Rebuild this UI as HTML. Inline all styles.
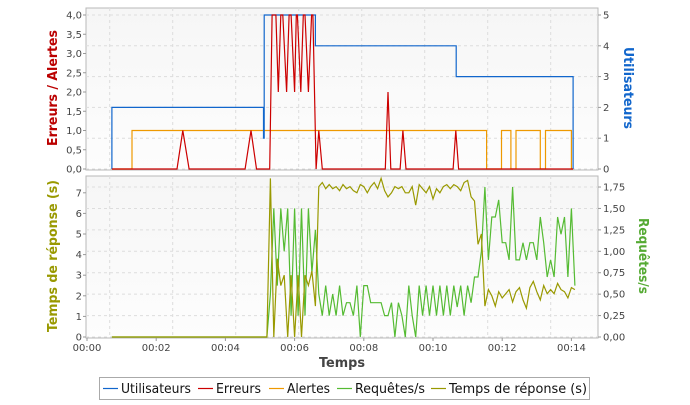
<!DOCTYPE html>
<html><head><meta charset="utf-8">
<style>
body{margin:0;background:#fff;font-family:"Liberation Sans","DejaVu Sans",sans-serif;}
svg text{font-family:"DejaVu Sans","Liberation Sans",sans-serif;}
</style></head>
<body>
<svg id="c" width="690" height="400" viewBox="0 0 690 400" xmlns="http://www.w3.org/2000/svg">
<defs>
<linearGradient id="bg" x1="0" y1="0" x2="0" y2="1"><stop offset="0" stop-color="#f6f6f6"/><stop offset="1" stop-color="#fdfdfd"/></linearGradient>
</defs>
</svg>
<script>
// ---- data ----
const xTickLabels=["00:00","00:02","00:04","00:06","00:08","00:10","00:12","00:14"];
const topLeftTicks=["0,0","0,5","1,0","1,5","2,0","2,5","3,0","3,5","4,0"];
const topRightTicks=["0","1","2","3","4","5"];
const botLeftTicks=["0","1","2","3","4","5","6","7"];
const botRightTicks=["0,00","0,25","0,50","0,75","1,00","1,25","1,50","1,75"];
// users step series (minutes, users)
const userTimes=[0.72,0.72,5.1,5.1,5.12,5.12,6.6,6.6,10.67,10.67,14.05,14.05];
const userVals=[0,2,2,1,1,5,5,4,4,3,3,0];
// alerts step series
const alertTimes=[0.72,1.3,1.3,11.55,11.55,11.98,11.98,12.25,12.25,12.4,12.4,13.1,13.1,13.25,13.25,14.0,14.0,14.05];
const alertVals=[0,0,1,1,0,0,1,1,0,0,1,1,0,0,1,1,0,0];
// errors
const errTimes=[0.72,2.6,2.77,2.95,4.57,4.74,4.9,5.28,5.35,5.46,5.53,5.6,5.66,5.77,5.84,5.9,6.0,6.05,6.08,6.18,6.25,6.3,6.4,6.49,6.53,6.62,6.7,6.8,8.62,8.7,8.78,9.05,9.13,9.22,10.58,10.66,10.74,14.05];
const errVals=[0,0,1,0,0,1,0,0,4,4,2,4,4,2,4,4,2,4,4,2,4,4,2,4,4,0,1,0,0,2,0,0,1,0,0,1,0,0];
// bottom series sampled every 0.1 min from 5.2
const sampleStart=5.2, sampleStep=0.1, seriesStart=0.72;
const respVals=[0,7.7,0,3.8,2.5,3.0,0,3.0,0,3.0,0,3.0,2.5,3.2,1.5,7.3,
7.5,7.2,7.4,7.2,7.3,7.1,7.4,7.2,7.3,7.1,7.0,7.4,7.3,7.0,7.3,7.5,7.2,7.7,7.1,6.8,7.0,7.3,7.2,7.3,7.0,7.0,7.3,6.4,7.4,7.2,7.0,7.3,6.7,7.2,7.0,7.3,7.4,7.2,7.4,7.3,7.1,7.5,7.6,
6.8,6.6,4.5,5.0,1.5,
2.3,2.0,1.5,2.2,1.9,2.1,2.3,1.7,2.2,2.4,1.8,1.4,2.4,2.7,2.2,1.8,2.5,2.1,2.3,2.1,2.6,2.3,2.2,1.9,2.4,2.3];
const reqVals=[0,0.5,1.5,0.6,1.5,1.0,1.5,0.25,1.5,0.25,1.5,0.25,1.5,0.75,1.25,0.5,
0.25,0.6,0.25,0.5,0.25,0.6,0.25,0.4,0.4,0.25,0.6,0,0.6,0.6,0.4,0.4,0.4,0.4,0.25,0.25,0.4,0,0.4,0.25,0,0.6,0.25,0,0.6,0.25,0.6,0.25,0.6,0.25,0.6,0.25,0.6,0.25,0.6,0.35,0.6,0.25,0.6,
0.4,0.7,0.7,1.0,1.75,
0.9,1.4,1.4,1.6,1.1,1.1,0.9,1.75,0.9,0.9,1.1,0.9,1.1,1.1,0.9,1.4,1.1,0.7,0.9,0.7,1.4,1.2,1.4,0.7,1.5,0.6];
const legendLabels=["Utilisateurs","Erreurs","Alertes","Requêtes/s","Temps de réponse (s)"];

// ---- geometry ----
const svg=document.getElementById('c');
const NS="http://www.w3.org/2000/svg";
function el(tag,attrs,parent){const e=document.createElementNS(NS,tag);for(const k in attrs)e.setAttribute(k,attrs[k]);(parent||svg).appendChild(e);return e;}
const L=86,R=598;
const T1=8,B1=169,T2=176,B2=337;
const xs=t=>87+34.6*t;
const yTL=v=>B1-38.5*v, yTR=v=>B1-30.8*v;
const yBL=v=>B2-20.6*v, yBR=v=>B2-85.7*v;
const C={users:"#1166cc",err:"#cc0000",alert:"#ee9900",req:"#55bb33",resp:"#999900"};

function plot(top,bot,name){
  const r=el('rect',{x:L,y:top,width:R-L,height:bot-top+1,fill:'url(#bg)',stroke:'#b8b8b8','stroke-width':1});
  
  
}
plot(T1,B1,'top-plot-area');
plot(T2,B2,'bottom-plot-area');
for(let k=-3;k<=4;k++){const x=298.7+63*k; if(x<=L||x>=R)continue;
 [[T1,B1],[T2,B2]].forEach(p=>{const g=el('line',{x1:x,x2:x,y1:p[0],y2:p[1],stroke:'#dddddd','stroke-dasharray':'3,3'});
 });}
topRightTicks.forEach((s,i)=>{const y=yTR(i);const g=el('line',{x1:L,x2:R,y1:y,y2:y,stroke:'#dddddd','stroke-dasharray':'3,3'});
 });
botRightTicks.forEach((s,i)=>{const y=yBR(i*0.25);const g=el('line',{x1:L,x2:R,y1:y,y2:y,stroke:'#dddddd','stroke-dasharray':'3,3'});
 });

function txt(s,x,y,attrs,name){const t=el('text',Object.assign({x:x,y:y,'font-size':10,fill:'#444'},attrs));t.textContent=s;
 return t;}
topLeftTicks.forEach((s,i)=>{const y=yTL(i*0.5);txt(s,82,y+3.5,{'text-anchor':'end'},'top-left-tick');el('line',{x1:L-3,x2:L,y1:y,y2:y,stroke:'#999'});});
topRightTicks.forEach((s,i)=>{const y=yTR(i);txt(s,603,y+3.5,{},'top-right-tick');el('line',{x1:R,x2:R+3,y1:y,y2:y,stroke:'#999'});});
botLeftTicks.forEach((s,i)=>{const y=yBL(i);txt(s,82,y+3.5,{'text-anchor':'end'},'bottom-left-tick');el('line',{x1:L-3,x2:L,y1:y,y2:y,stroke:'#999'});});
botRightTicks.forEach((s,i)=>{const y=yBR(i*0.25);txt(s,603,y+3.5,{},'bottom-right-tick');el('line',{x1:R,x2:R+3,y1:y,y2:y,stroke:'#999'});});
xTickLabels.forEach((s,i)=>{const x=xs(i*2);txt(s,x,351,{'text-anchor':'middle'},'x-tick-label');el('line',{x1:x,x2:x,y1:B2+1,y2:B2+4,stroke:'#999'});});

function title(s,x,y,color,rot,name,len){const a={x:x,y:y,'font-size':13,'font-weight':'bold',fill:color,'text-anchor':'middle',transform:rot?`rotate(${rot} ${x} ${y})`:''};
 if(len){a.textLength=len;a.lengthAdjust='spacingAndGlyphs';}
 const t=el('text',a);
 t.textContent=s;}
title("Erreurs / Alertes",57,88,"#bb0000",-90,'top-left-axis-title',116);
title("Utilisateurs",624,88,"#1166cc",90,'top-right-axis-title',82);
title("Temps de réponse (s)",57,256,"#999900",-90,'bottom-left-axis-title',152);
title("Requêtes/s",639,256,"#55aa33",90,'bottom-right-axis-title',76);
title("Temps",342,367,"#444",0,'x-axis-title',46);

function line(times,vals,xf,yf,color,name){
  const d=times.map((t,i)=>(i?'L':'M')+xf(t).toFixed(1)+','+yf(vals[i]).toFixed(1)).join('');
  const p=el('path',{d:d,fill:'none',stroke:color,'stroke-width':1.2,'stroke-linejoin':'miter'});
  
}
line(alertTimes,alertVals,xs,yTL,C.alert,'alerts-line');
line(userTimes,userVals,xs,yTR,C.users,'users-line');
line(errTimes,errVals,xs,yTL,C.err,'errors-line');
const sTimes=[seriesStart].concat(respVals.map((v,i)=>sampleStart+i*sampleStep));
line(sTimes,[0].concat(reqVals),xs,yBR,C.req,'requests-line');
line(sTimes,[0].concat(respVals),xs,yBL,C.resp,'response-time-line');

// legend
const lg=el('rect',{x:99.5,y:377.5,width:490,height:22,fill:'#fff',stroke:'#aaa'});

const lcols=[C.users,C.err,C.alert,C.req,C.resp];
const lx=[103,198,269,337,431];
const lw=[70,45,43,70,138];
legendLabels.forEach((s,i)=>{
  const g=el('g',{});
  
  el('line',{x1:lx[i],x2:lx[i]+15,y1:388.5,y2:388.5,stroke:lcols[i],'stroke-width':1.2},g);
  const t=el('text',{x:lx[i]+18,y:393,'font-size':13,fill:'#111',textLength:lw[i],lengthAdjust:'spacingAndGlyphs'},g);t.textContent=s;
  
});
</script>
</body></html>
